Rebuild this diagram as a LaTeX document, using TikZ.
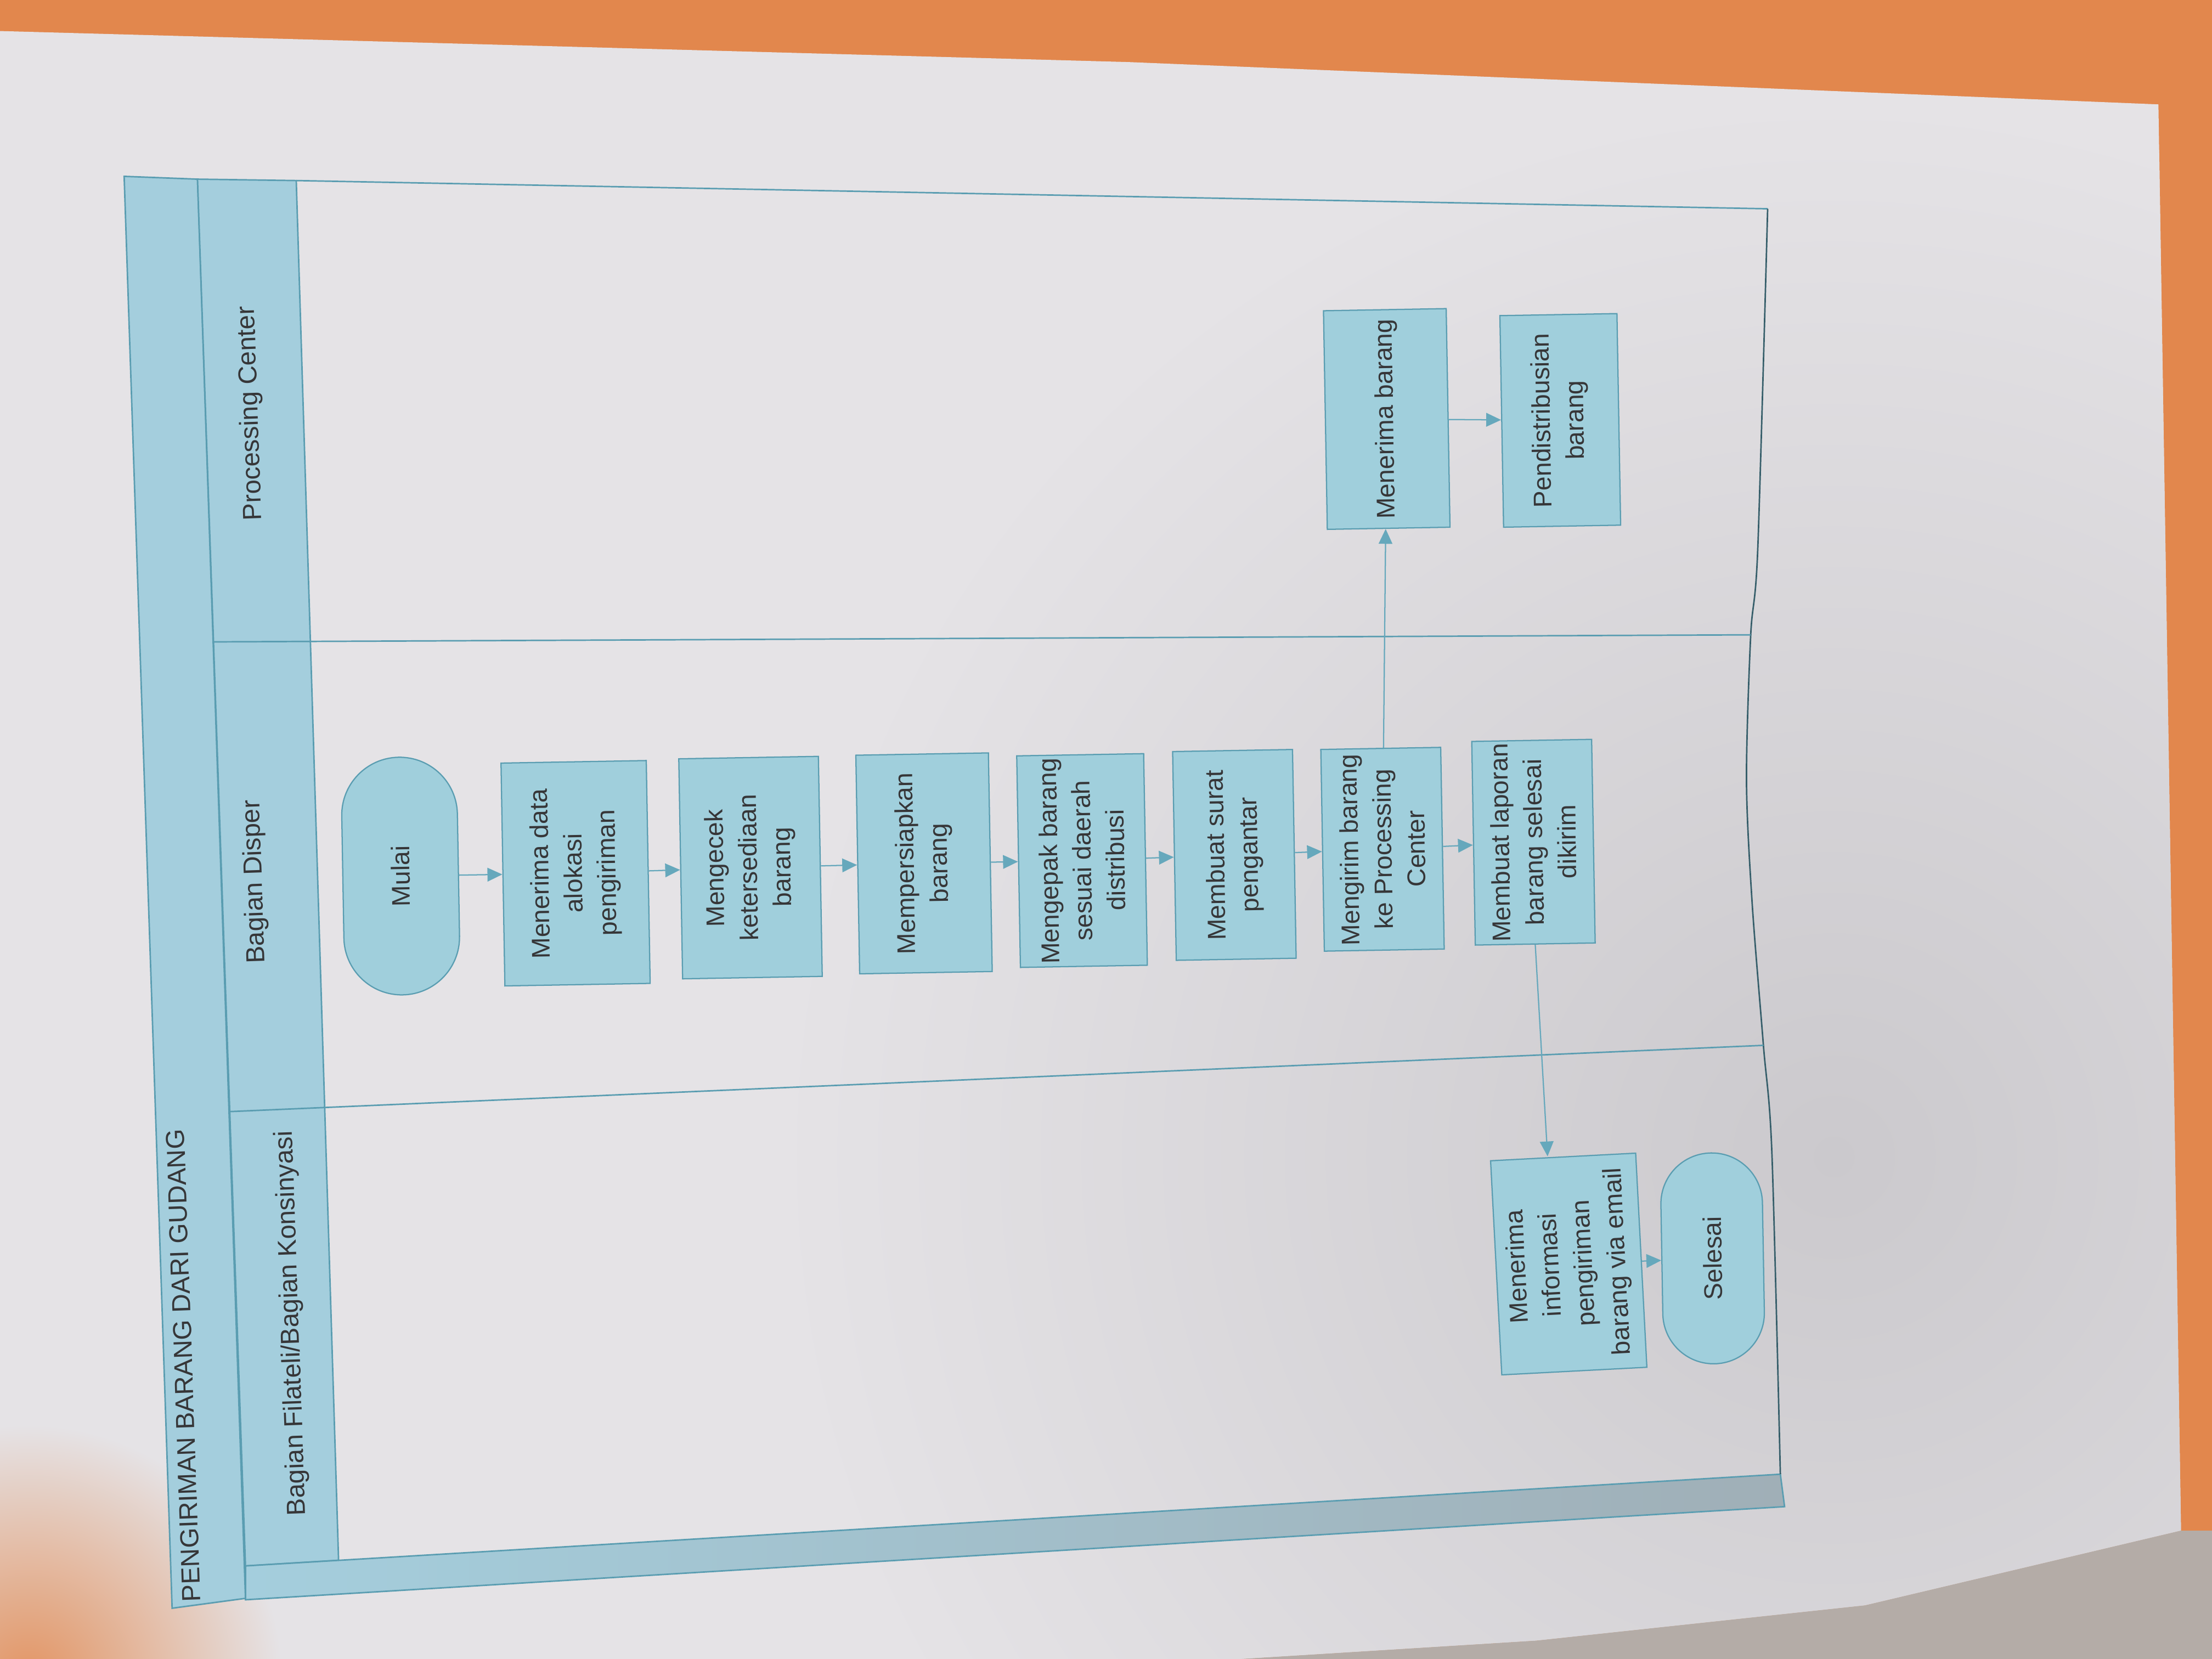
\documentclass[tikz,border=0pt]{standalone}
\usepackage{fontspec}
\setmainfont{Liberation Sans}
\usetikzlibrary{arrows.meta,shapes.misc}

\definecolor{mejaoranye}{HTML}{E2874D}
\definecolor{mejaabu}{HTML}{B4ACA7}
\definecolor{kertas}{HTML}{E5E3E6}
\definecolor{bayangan}{HTML}{CBC9CD}
\definecolor{pitabiru}{HTML}{A4CEDD}
\definecolor{pitaabu}{HTML}{A0AFB7}
\definecolor{kotakbiru}{HTML}{A0CFDC}
\definecolor{garisbiru}{HTML}{5A9DB1}
\definecolor{alurbiru}{HTML}{66A8BC}
\definecolor{tinta}{HTML}{363638}

\begin{document}
\begin{tikzpicture}
  [x=0.02cm, y=-0.02cm,
   teks/.style={text=tinta, font=\fontsize{10.3}{13.5}\selectfont},
   proses/.style={teks, draw=garisbiru, fill=kotakbiru, line width=0.5pt,
                  rotate=91, align=center, inner sep=1pt},
   terminal/.style={proses, rounded rectangle},
   kepala/.style={teks, rotate=92, font=\fontsize{10.5}{13}\selectfont},
   bingkai/.style={draw=garisbiru, line width=0.6pt},
   alur/.style={color=alurbiru, line width=0.5pt, -{Triangle[length=6pt,width=5.5pt]}}]

  \useasboundingbox (0,0) rectangle (1568,1176);

  % latar foto: meja, kertas, bayangan
  \fill[mejaoranye] (0,0) rectangle (1568,1176);
  \fill[kertas] (0,22) -- (800,44) -- (1530,74) -- (1546,1085)
    -- (1322,1138) -- (1089,1163) -- (880,1176) -- (0,1176) -- cycle;
  \begin{scope}
    \clip (0,22) -- (800,44) -- (1530,74) -- (1546,1085)
      -- (1322,1138) -- (1089,1163) -- (880,1176) -- (0,1176) -- cycle;
    \shade[inner color=bayangan, outer color=kertas] (1300,820) circle (15cm);
    \shade[inner color=mejaoranye!85!kertas, outer color=kertas] (20,1190) circle (3.6cm);
  \end{scope}
  \fill[mejaabu] (1546,1085) -- (1568,1085) -- (1568,1176) -- (880,1176)
    -- (1089,1163) -- (1322,1138) -- cycle;

  % kolam dan lajur
  \path[bingkai, fill=pitabiru] (88,125) -- (140,127) -- (174,1133) -- (122,1140) -- cycle;
  \path[bingkai, fill=pitabiru] (140,127) -- (210,128) -- (240,1106) -- (174,1110) -- cycle;
  \path[bingkai, left color=pitabiru, right color=pitaabu]
    (174,1110) -- (1262,1045) -- (1265,1068) -- (174,1134) -- cycle;
  \draw[bingkai] (210,128) -- (1253,148);
  \draw[bingkai, draw=garisbiru!60!black] plot[smooth] coordinates
    {(1253,148) (1246,389) (1241,450) (1238,553) (1242,640) (1250,741) (1256,817) (1262,1045)};
  \draw[bingkai] (151,455) -- (1241,450);
  \draw[bingkai] (162,788) -- (1250,741);

  \node[kepala] (judul)    at (130,968) {PENGIRIMAN BARANG DARI GUDANG};
  \node[kepala] (lajurpc)  at (178,293) {Processing Center};
  \node[kepala] (lajurdis) at (181,625) {Bagian Disper};
  \node[kepala] (lajurfil) at (207,938) {Bagian Filateli/Bagian Konsinyasi};

  % Bagian Disper
  \node[terminal, minimum width=3.44cm, minimum height=1.64cm] (mulai) at (284,621) {Mulai};
  \node[proses, minimum width=3.16cm, minimum height=2.06cm] (terimadata) at (408,619)
    {Menerima data\\alokasi\\pengiriman};
  \node[proses, minimum width=3.12cm, minimum height=1.98cm] (cekbarang) at (532,615)
    {Mengecek\\ketersediaan\\barang};
  \node[proses, minimum width=3.1cm, minimum height=1.88cm] (siapbarang) at (655,612)
    {Mempersiapkan\\barang};
  \node[proses, minimum width=3.0cm, minimum height=1.8cm] (kepakbarang) at (767,610)
    {Mengepak barang\\sesuai daerah\\distribusi};
  \node[proses, minimum width=2.96cm, minimum height=1.7cm] (suratpengantar) at (875,606)
    {Membuat surat\\pengantar};
  \node[proses, minimum width=2.86cm, minimum height=1.7cm] (kirimbarang) at (980,602)
    {Mengirim barang\\ke Processing\\Center};
  \node[proses, minimum width=2.82cm, minimum height=1.7cm] (laporan) at (1087,597)
    {Membuat laporan\\barang selesai\\dikirim};

  % Processing Center
  \node[proses, minimum width=3.1cm, minimum height=1.74cm] (terimabarang) at (983,297)
    {Menerima barang};
  \node[proses, minimum width=3.0cm, minimum height=1.66cm] (distribusi) at (1106,298)
    {Pendistribusian\\barang};

  % Bagian Filateli/Bagian Konsinyasi
  \node[proses, rotate=2, minimum width=3.04cm, minimum height=2.06cm] (infoemail) at (1112,896)
    {Menerima\\informasi\\pengiriman\\barang via email};
  \node[terminal, minimum width=3.06cm, minimum height=1.44cm] (selesai) at (1214,892) {Selesai};

  \path[alur]
        (mulai)          edge (terimadata)
        (terimadata)     edge (cekbarang)
        (cekbarang)      edge (siapbarang)
        (siapbarang)     edge (kepakbarang)
        (kepakbarang)    edge (suratpengantar)
        (suratpengantar) edge (kirimbarang)
        (kirimbarang)    edge (terimabarang)
        (terimabarang)   edge (distribusi)
        (kirimbarang)    edge (laporan)
        (laporan.west)   edge ([xshift=-0.22cm]infoemail.east)
        (infoemail)      edge (selesai);
\end{tikzpicture}
\end{document}
